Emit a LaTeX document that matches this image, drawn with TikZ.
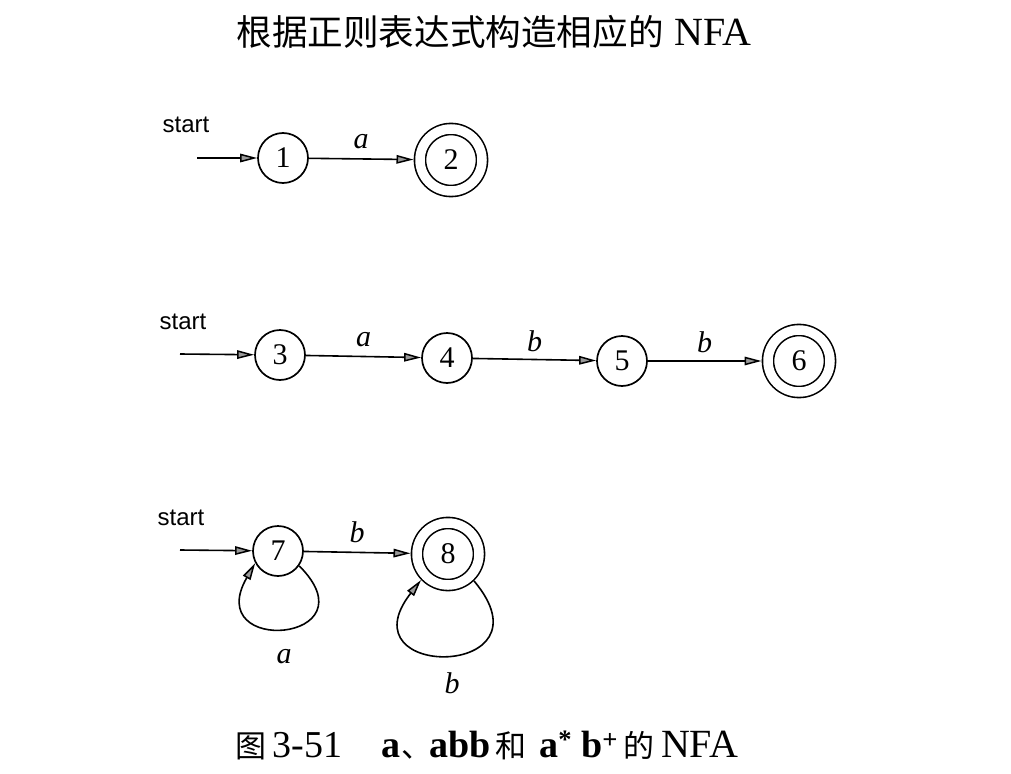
\documentclass[tikz,border=0pt]{standalone}
\usepackage{fontspec}
\setmainfont{Liberation Serif}
\newfontfamily\cjk{Noto Sans CJK SC}
\newfontfamily\startfont{Liberation Sans}
\usetikzlibrary{arrows.meta}
\begin{document}
\begin{tikzpicture}[x=1pt,y=1pt,
  state/.style={draw,circle,line width=1.7pt,minimum size=50pt,inner sep=0pt,
    font=\fontsize{30}{32}\selectfont},
  accept/.style={draw,circle,line width=1.6pt,minimum size=62pt,inner sep=0pt,
    double,double distance=9.5pt,outer sep=6.5pt,font=\fontsize{30}{32}\selectfont},
  edge/.style={line width=1.6pt,-{Triangle[length=17pt,width=8.5pt,line width=1.5pt,fill=black!40]}},
  lab/.style={font=\fontsize{30}{32}\selectfont\itshape},
  startlab/.style={font=\startfont\fontsize{24}{26}\selectfont}]
\path[use as bounding box] (0,0) rectangle (1011,-773);

% title
\node[anchor=west,font=\fontsize{40}{42}\selectfont] (title) at (233,-32)
  {{\cjk\fontsize{35.6}{40}\selectfont 根据正则表达式构造相应的}\hspace{11pt}NFA};

% row 1
\node[state] (s1) at (283,-158) {1};
\node[accept] (s2) at (451,-160) {2};
\node[startlab] (st1) at (186,-125) {start};
\coordinate (in1) at (197,-158);
\draw[edge] (in1) -- (s1);
\draw[edge] (s1) -- node[lab,above=6pt] (la1) {a} (s2);

% row 2
\node[state] (s3) at (280,-355) {3};
\node[state] (s4) at (447,-358) {4};
\node[state] (s5) at (622,-361) {5};
\node[accept] (s6) at (799,-361) {6};
\node[startlab] (st2) at (183,-322) {start};
\coordinate (in2) at (180,-354);
\draw[edge] (in2) -- (s3);
\draw[edge] (s3) -- node[lab,above=6pt] (la2) {a} (s4);
\draw[edge] (s4) -- node[lab,above=4pt] (lb2) {b} (s5);
\draw[edge] (s5) -- node[lab,above=4pt] (lb3) {b} (s6);

% row 3
\node[state] (s7) at (278,-551) {7};
\node[accept] (s8) at (448,-554) {8};
\node[startlab] (st3) at (181,-518) {start};
\coordinate (in3) at (180,-550);
\draw[edge] (in3) -- (s7);
\draw[edge] (s7) -- node[lab,above=5pt] (lb4) {b} (s8);
\draw[edge] (s7.-35) to[out=-45,in=-120,distance=108pt] (s7.-152);
\draw[edge] (s8.-46) to[out=-50,in=-128,distance=128pt] (s8.-136);
\node[lab] (la3) at (284,-657) {a};
\node[lab] (lb5) at (452,-683) {b};

% caption
\node[anchor=west,font=\fontsize{38}{40}\selectfont] (cap) at (232,-745)
  {{\cjk\fontsize{31}{34}\selectfont 图}\hspace{6pt}3-51\hspace{39pt}\textbf{a}\hspace{1pt}{\cjk\fontsize{31}{34}\selectfont 、}\hspace{-3pt}\textbf{abb}\hspace{5pt}{\cjk\fontsize{31}{34}\selectfont 和}\hspace{13pt}\textbf{a}\textsuperscript{\textbf{*}}\hspace{9pt}\textbf{b}\textsuperscript{\textbf{+}}\hspace{5pt}{\cjk\fontsize{31}{34}\selectfont 的}\hspace{7pt}{\fontsize{40}{42}\selectfont NFA}};
\end{tikzpicture}
\end{document}
